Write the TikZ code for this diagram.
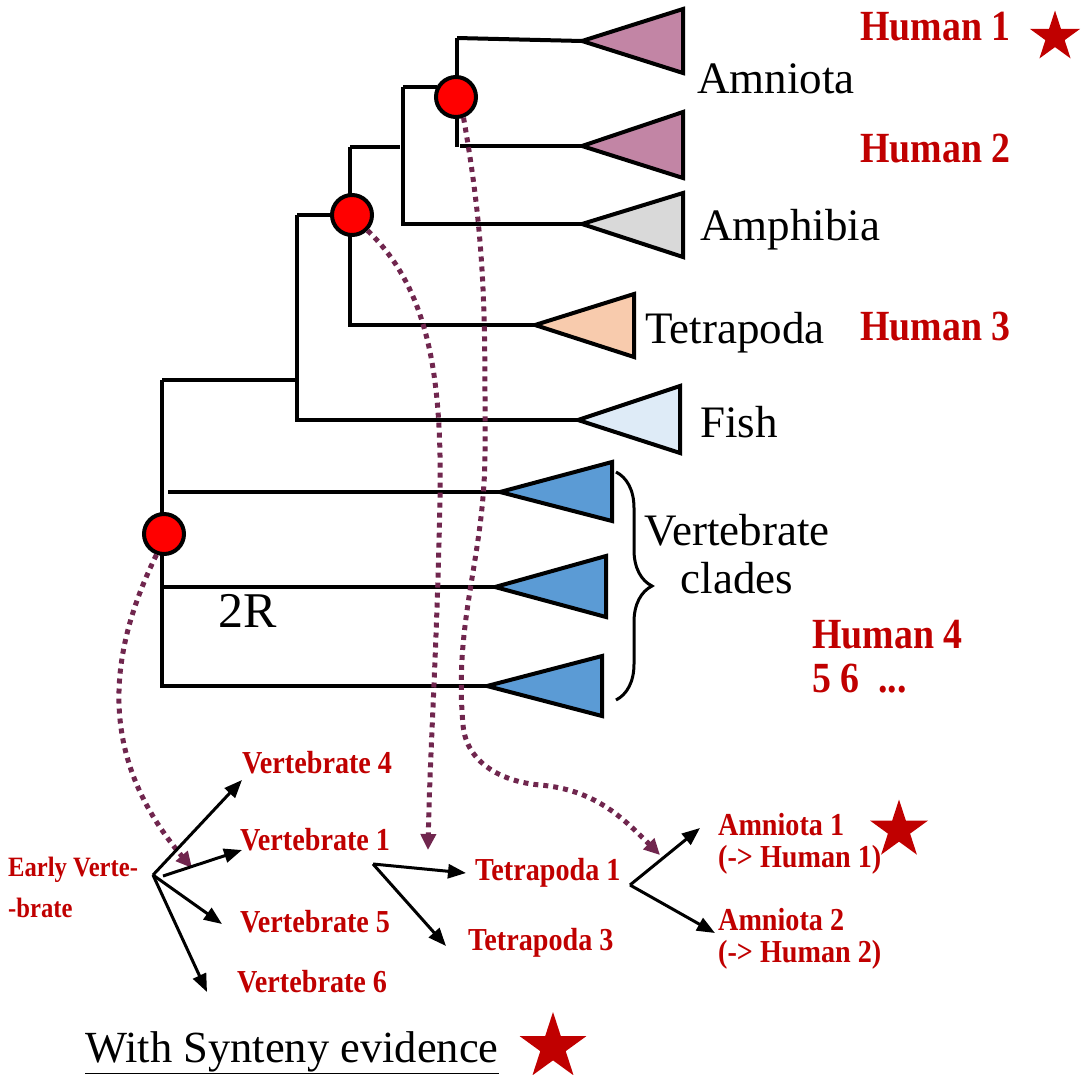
\documentclass[tikz,border=0pt]{standalone}
\usepackage{fontspec}
\setmainfont{Liberation Serif}
\newfontfamily\redfont[FakeStretch=0.88]{Liberation Serif}
\usetikzlibrary{arrows.meta,shapes.geometric,decorations.pathreplacing}

\definecolor{hred}{RGB}{192,0,0}
\definecolor{dotpurple}{RGB}{112,38,78}
\definecolor{amnfill}{RGB}{194,133,165}
\definecolor{amphfill}{RGB}{217,217,217}
\definecolor{tetfill}{RGB}{248,203,173}
\definecolor{fishfill}{RGB}{222,235,247}
\definecolor{vertfill}{RGB}{91,155,213}

\begin{document}
\begin{tikzpicture}[x=1pt, y=-1pt, line join=miter]
\useasboundingbox (0,0) rectangle (1084,1074);

\tikzset{branch/.style={line width=4pt}}
\tikzset{clade/.style={draw, line width=4pt}}
% joints
\coordinate (rt) at (162,380);
\coordinate (rb) at (162,686);
\coordinate (vj) at (297,215);
\coordinate (vjm) at (297,380);
\coordinate (vjb) at (297,420);
\coordinate (tj) at (350,147);
\coordinate (tjb) at (350,325);
\coordinate (tjt) at (400,147);
\coordinate (aj) at (403,87);
\coordinate (ajr) at (437,87);
\coordinate (ajb) at (403,224);
\coordinate (amj) at (457,38);
\coordinate (amjb) at (457,147);
\coordinate (amjb2) at (460,146);
\coordinate (vc1s) at (168,492);
\coordinate (vc2s) at (162,587);
% tips
\coordinate (amn1) at (582,41);
\coordinate (amn2) at (582,146);
\coordinate (amph) at (582,224);
\coordinate (tet) at (535,325);
\coordinate (fish) at (578,420);
\coordinate (vc1) at (500,492);
\coordinate (vc2) at (495,587);
\coordinate (vc3) at (487,686);

\draw [branch] (amj) -- (amjb);
\draw [branch] (amj) -- (amn1);
\draw [branch] (amjb2) -- (amn2);
\draw [branch] (aj) -- (ajb) -- (amph);
\draw [branch] (aj) -- (ajr);
\draw [branch] (tj) -- (tjb) -- (tet);
\draw [branch] (tj) -- (tjt);
\draw [branch] (vj) -- (vjb) -- (fish);
\draw [branch] (vj) -- (330,215);
\draw [branch] (rt) -- (vjm);
\draw [branch] (rt) -- (rb) -- (vc3);
\draw [branch] (vc1s) -- (vc1);
\draw [branch] (vc2s) -- (vc2);

\draw [clade, fill=amnfill] (amn1) -- (683,9) -- (683,73) -- cycle;
\draw [clade, fill=amnfill] (amn2) -- (683,112) -- (683,178) -- cycle;
\draw [clade, fill=amphfill] (amph) -- (683,193) -- (683,257) -- cycle;
\draw [clade, fill=tetfill] (tet) -- (634,294) -- (634,357) -- cycle;
\draw [clade, fill=fishfill] (fish) -- (680,386) -- (680,453) -- cycle;
\draw [clade, fill=vertfill] (vc1) -- (612,462) -- (612,521) -- cycle;
\draw [clade, fill=vertfill] (vc2) -- (606,556) -- (606,617) -- cycle;
\draw [clade, fill=vertfill] (vc3) -- (602,656) -- (602,716) -- cycle;

\draw [line width=3pt, decorate, decoration={brace, amplitude=36pt}] (616,472) -- (616,700);

% duplication nodes
\tikzset{dup/.style={circle, draw, fill=red, line width=4pt, minimum size=40pt, inner sep=0pt}}
\node [dup] (amnode) at (456,97) {};
\node [dup] (tetnode) at (352,215) {};
\node [dup] (vnode) at (164,534) {};

% labels
\tikzset{lbl/.style={anchor=base west, inner sep=0pt, font=\fontsize{45}{48}\selectfont}}
\node [lbl] (amnl) at (697,93) {Amniota};
\node [lbl] (amphl) at (700,240) {Amphibia};
\node [lbl] (tetl) at (645,343) {Tetrapoda};
\node [lbl] (fishl) at (700,437) {Fish};
\node [lbl, anchor=base, align=center] (vcl) at (737,593) {Vertebrate\\clades};
\node [lbl, font=\fontsize{50}{56}\selectfont] (twor) at (218,627) {2R};

\tikzset{hlbl/.style={anchor=base west, inner sep=0pt, text=hred, font=\redfont\bfseries\fontsize{43}{44}\selectfont}}
\node [hlbl] (h1) at (860,40) {Human 1};
\node [hlbl] (h2) at (860,162) {Human 2};
\node [hlbl] (h3) at (860,340) {Human 3};
\node [hlbl, align=left] (h4) at (812,692) {Human 4\\5 6\ \ ...};

\tikzset{slbl/.style={anchor=base west, inner sep=0pt, text=hred, font=\redfont\bfseries\fontsize{32}{32}\selectfont}}
\node [slbl, font=\redfont\bfseries\fontsize{28}{41}\selectfont, align=left] (ev) at (8,917) {Early Verte-\\-brate};
\node [slbl] (v4) at (242,773) {Vertebrate 4};
\node [slbl] (v1) at (240,850) {Vertebrate 1};
\node [slbl] (v5) at (240,932) {Vertebrate 5};
\node [slbl] (v6) at (237,992) {Vertebrate 6};
\node [slbl] (t1) at (475,880) {Tetrapoda 1};
\node [slbl] (t3) at (468,950) {Tetrapoda 3};
\node [slbl, align=left] (a1) at (718,867) {Amniota 1\\(-> Human 1)};
\node [slbl, align=left] (a2) at (718,962) {Amniota 2\\(-> Human 2)};

\node [anchor=base west, inner sep=0pt, font=\fontsize{44.5}{48}\selectfont] (syn) at (85,1062) {\underline{With Synteny evidence}};

\tikzset{hstar/.style={star, star points=5, star point ratio=2.618, fill=hred, inner sep=0pt}}
\node [hstar, minimum size=53pt] (s1) at (1055,37) {};
\node [hstar, minimum size=61pt] (s2) at (899,830) {};
\node [hstar, minimum size=70pt] (s3) at (553,1047) {};

% dotted arrows
\tikzset{dotarrow/.style={dotpurple, line width=5pt, dash pattern=on 5pt off 5pt, -{Triangle[length=16pt,width=15pt]}}}
\draw [dotarrow] (vnode.250) .. controls (105,660) and (100,760) .. (192,868);
\draw [dotarrow] (tetnode.-45) .. controls (430,290) and (442,380) .. (440,500)
  .. controls (437,650) and (430,750) .. (428,850);
\draw [dotarrow] (amnode.-70) to[out=-80,in=90] (485,450) to[out=-90,in=95] (463,725)
  to[out=-85,in=175] (540,785) to[out=-5,in=135] (660,855);

% splits
\tikzset{split/.style={line width=3pt, -{Triangle[length=18pt,width=14pt]}}}
\coordinate (evo) at (153,875);
\coordinate (evo2) at (163,876);
\coordinate (v1o) at (373,864);
\coordinate (t1o) at (630,885);
\path (evo) edge [split] (242,780);
\path (evo2) edge [split] (242,850);
\path (evo) edge [split] (222,924);
\path (evo) edge [split] (207,992);
\path (v1o) edge [split] (466,873);
\path (v1o) edge [split] (446,946);
\path (t1o) edge [split] (700,828);
\path (t1o) edge [split] (715,933);
\end{tikzpicture}
\end{document}
